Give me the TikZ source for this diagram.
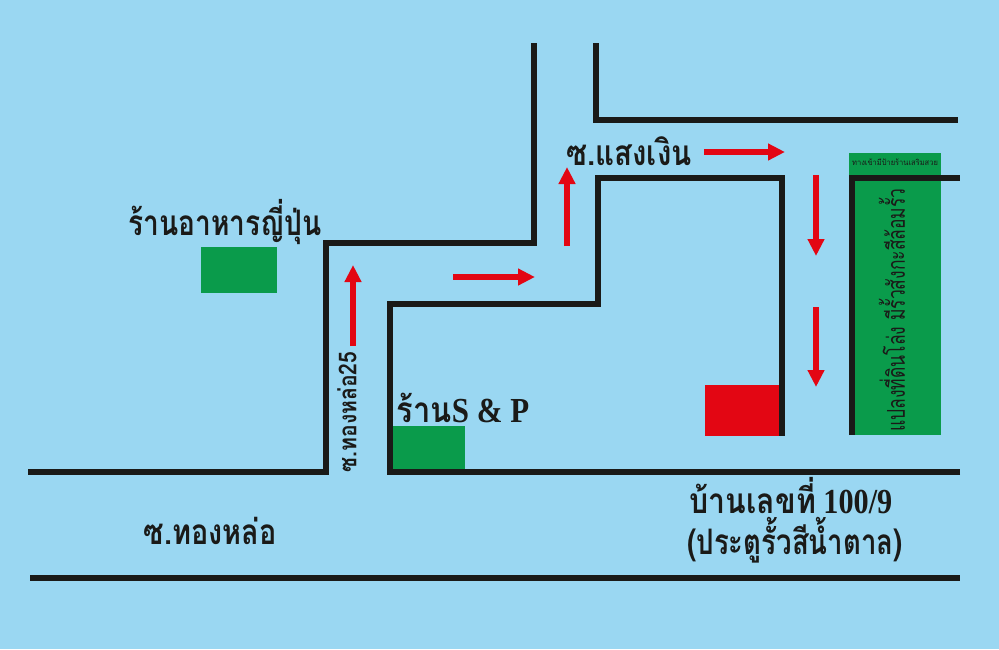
\documentclass[tikz,border=0pt]{standalone}
\usepackage{fontspec}
\setmainfont{Liberation Serif}
\newfontfamily\thaifont[Script=Thai]{Loma}
\usepackage{tikz}
\usetikzlibrary{arrows.meta}
\pgfdeclarelayer{background}
\pgfdeclarelayer{foreground}
\pgfsetlayers{background,main,foreground}
\definecolor{skyblue}{HTML}{9AD7F2}
\definecolor{lotgreen}{HTML}{0A9B4B}
\definecolor{markred}{HTML}{E30613}
\definecolor{roadblack}{HTML}{1A1A18}
\tikzset{
  x=0.02cm,y=-0.02cm,
  road/.style={draw=roadblack,line width=0.13cm,line join=miter},
  route/.style={-{Triangle[length=0.34cm,width=0.32cm]},draw=markred,line width=0.12cm},
  label/.style={text=roadblack,inner sep=0pt},
  squeeze/.style={xscale=#1,transform shape},
}
\begin{document}
\begin{tikzpicture}
\useasboundingbox (0,0) rectangle (999,649);
\begin{pgfonlayer}{background}
\fill[skyblue] (0,0) rectangle (999,649);
\fill[lotgreen] (201,247) rectangle (277,293);
\fill[lotgreen] (393,426) rectangle (465,470);
\fill[lotgreen] (849,153) rectangle (941,435);
\fill[markred] (705,385) rectangle (780,436);
\end{pgfonlayer}
% roads
\draw[road] (28,472) -- (326,472) -- (326,243) -- (534,243) -- (534,43);
\draw[road] (960,472) -- (390,472) -- (390,304) -- (598,304) -- (598,178) -- (782,178) -- (782,436);
\draw[road] (596,43) -- (596,120) -- (958,120);
\draw[road] (852,435) -- (852,178) -- (960,178);
\draw[road] (30,578) -- (960,578);
% route
\draw[route] (353,346) -- (353,265);
\draw[route] (453,277) -- (535,277);
\draw[route] (567,246) -- (567,167);
\draw[route] (704,152) -- (785,152);
\draw[route] (816,175) -- (816,256);
\draw[route] (816,307) -- (816,387);
% labels
\node[label,squeeze=0.8,font=\thaifont\bfseries\fontsize{20}{24}\selectfont] (jpfood) at (225,222) {ร้านอาหารญี่ปุ่น};
\node[label,squeeze=0.84,font=\thaifont\bfseries\fontsize{20}{24}\selectfont] (sangngoen) at (629,151) {ซ.แสงเงิน};
\node[label,squeeze=0.88,font=\fontsize{20}{24}\selectfont\bfseries] (spshop) at (463,408) {{\thaifont ร้าน}S \& P};
\node[label,rotate=90,squeeze=0.86,font=\thaifont\bfseries\fontsize{14}{16}\selectfont] (soi25) at (347,412) {ซ.ทองหล่อ25};
\node[label,squeeze=0.82,font=\thaifont\bfseries\fontsize{20}{24}\selectfont] (thonglo) at (210,531) {ซ.ทองหล่อ};
\node[label,squeeze=0.86,font=\fontsize{20}{24}\selectfont\bfseries] (house) at (791,496) {{\thaifont บ้านเลขที่} 100/9};
\node[label,squeeze=0.785,font=\thaifont\bfseries\fontsize{20}{24}\selectfont] (gate) at (795,540) {(ประตูรั้วสีน้ำตาล)};
\node[label,squeeze=0.95,font=\thaifont\fontsize{4.5}{5}\selectfont] (entry) at (895,162) {ทางเข้ามีป้ายร้านเสริมสวย};
\node[label,rotate=90,squeeze=0.71,font=\thaifont\fontsize{14}{16}\selectfont] (lot) at (892,310) {แปลงที่ดินโล่ง มีรั้วสังกะสีล้อมรั้ว};
\end{tikzpicture}
\end{document}
